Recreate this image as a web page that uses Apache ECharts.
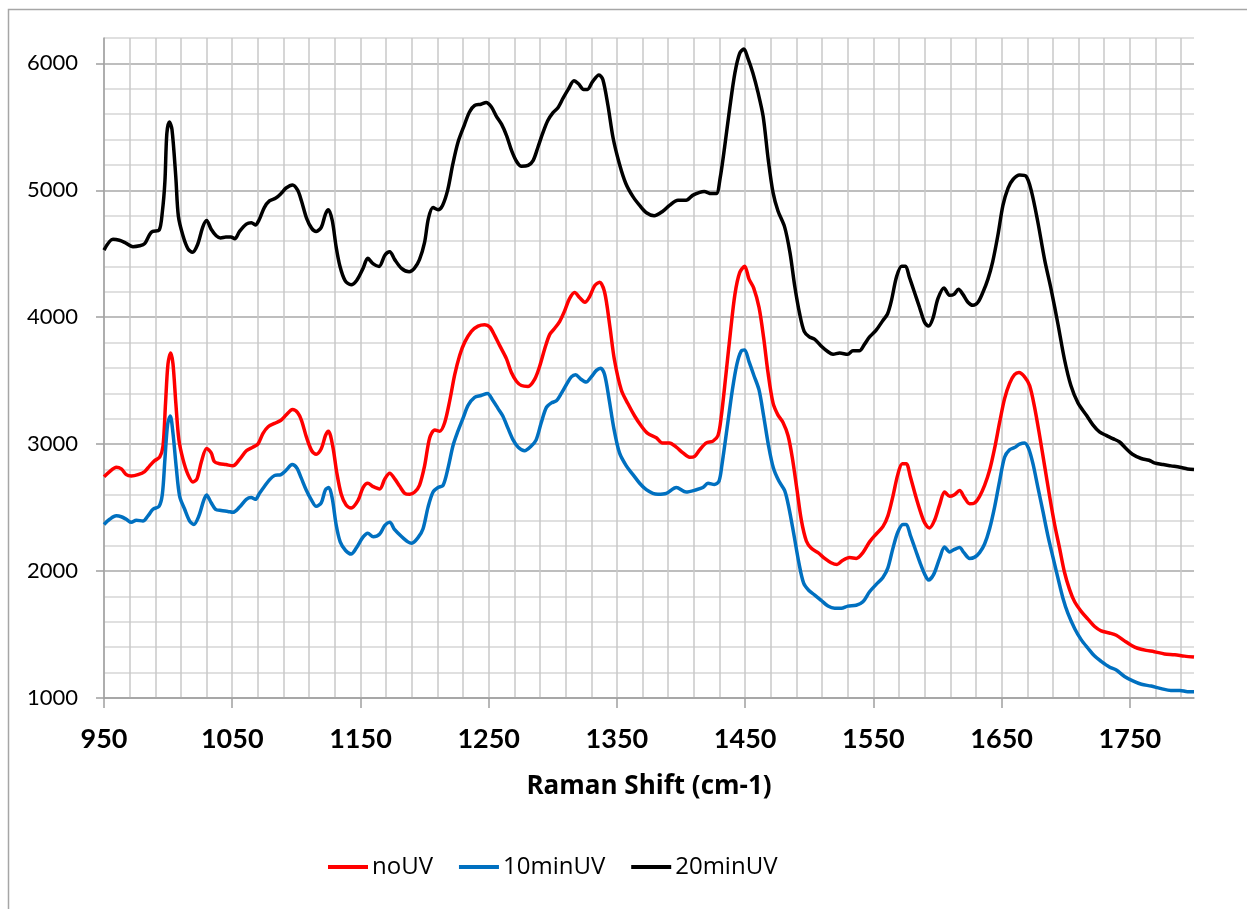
<!DOCTYPE html>
<html>
<head>
<meta charset="utf-8">
<script src="https://cdn.jsdelivr.net/npm/echarts@6/dist/echarts.min.js"></script>
<style>html,body{margin:0;padding:0;background:#fff;}#c{width:1247px;height:909px;}</style>
</head>
<body>
<div id="c"></div>
<script>
const seriesNames = ['noUV', '10minUV', '20minUV'];
const xTickLabels = [950, 1050, 1150, 1250, 1350, 1450, 1550, 1650, 1750];
const yTickLabels = [1000, 2000, 3000, 4000, 5000, 6000];

const noUVX = [950,954.4,959.6,963.5,967.4,971.3,976.5,981.7,985.6,989.5,993.4,996,998,999.9,1002,1003.8,1006,1008.4,1011.6,1015.5,1019.4,1022.5,1026,1030,1033.6,1036,1040,1045,1050.5,1055.7,1061,1066,1070,1074,1078,1083,1088,1092,1097,1101,1104,1108,1112,1115.5,1119.5,1122.7,1125,1128.4,1131.5,1135,1138.8,1142.7,1148,1152,1155.7,1160,1165,1169,1172.8,1176.7,1180.6,1184.5,1188.4,1192.3,1196,1200,1204,1208,1211.8,1215.7,1219.6,1223.5,1227.4,1231.3,1236.5,1241.7,1246.9,1250.8,1254.7,1258.6,1263.8,1267.7,1271.6,1275.5,1280.7,1285.9,1289.8,1293.7,1297.6,1301.5,1305.4,1309.2,1313,1317,1321,1325,1328.7,1332.6,1336.5,1340.4,1344.3,1348,1353.4,1358.6,1363.8,1369,1374,1380.7,1385.4,1391,1396.3,1401.5,1406.7,1410.6,1414.5,1419.7,1424.9,1428.8,1431.4,1434.8,1438.4,1442,1445.7,1449.6,1453,1456.6,1460.8,1464.4,1467.8,1471.7,1475.6,1479.5,1483.4,1486.7,1490.4,1493.8,1497.7,1501.6,1506.8,1512,1517,1521.6,1526.2,1531.4,1536.6,1541.8,1547,1552.2,1557.4,1561.3,1565.2,1569,1572.5,1575.6,1578.8,1583,1586.6,1590,1593.8,1597.7,1601.6,1605.5,1609.4,1612.8,1617.2,1621,1625,1629,1632.8,1636.7,1640.6,1644.5,1648.4,1652.3,1656.2,1660,1663.5,1667.9,1671.8,1675.7,1679.6,1683.5,1687.4,1691.3,1695.2,1699,1703,1706.9,1712,1717.3,1722.5,1727.6,1734,1739.4,1745.8,1751,1756,1762.7,1769,1777,1785,1792.6,1800];
const noUVY = [2743,2784,2818,2805,2760,2750,2760,2784,2829,2870,2897,2983,3325,3633,3718,3633,3325,3034,2880,2760,2702,2726,2863,2966,2931,2863,2846,2839,2829,2880,2948,2976,3000,3085,3137,3164,3188,3229,3273,3249,3188,3051,2948,2921,2966,3068,3102,2983,2777,2606,2521,2497,2555,2658,2692,2665,2647,2726,2770,2726,2668,2613,2606,2623,2675,2829,3051,3112,3102,3171,3342,3547,3701,3804,3889,3930,3941,3923,3855,3776,3674,3564,3496,3462,3455,3513,3616,3752,3865,3913,3968,4050,4146,4194,4153,4118,4163,4248,4276,4197,3941,3667,3427,3318,3222,3143,3085,3051,3010,3010,2976,2931,2897,2904,2955,3010,3024,3068,3222,3530,3872,4180,4351,4402,4300,4231,4077,3838,3564,3325,3229,3171,3068,2897,2641,2401,2237,2179,2145,2100,2066,2052,2086,2107,2100,2145,2230,2292,2350,2435,2589,2760,2846,2846,2743,2589,2470,2380,2340,2401,2521,2623,2589,2599,2634,2579,2531,2538,2589,2675,2794,2966,3171,3359,3479,3547,3564,3530,3462,3290,3068,2829,2589,2367,2179,1991,1854,1758,1683,1621,1563,1529,1512,1494,1450,1416,1392,1375,1365,1347,1341,1330,1323];

const min10X = [950,954.4,959.6,963.5,967.4,971.3,975.2,980.4,984.3,988.2,992.9,995.5,997.5,999.6,1001.7,1003.8,1006.4,1009,1012.9,1016.8,1020,1024,1027.7,1030,1033.6,1037,1041.4,1046.6,1050.5,1055.7,1061,1064.8,1068,1071.3,1075.2,1079,1083,1088,1092,1096.7,1100.4,1103.7,1107.6,1111.5,1115.5,1119.4,1122.7,1125.3,1128,1131,1134.2,1138.4,1142.7,1146.6,1151.8,1155.7,1160,1165,1169,1172.8,1176.7,1182,1187,1190,1195,1198.8,1202.7,1206.6,1210.5,1214.4,1218.3,1222.2,1226,1230,1234,1239,1244,1249,1253.4,1257.3,1261,1265,1269,1273,1278,1283,1287,1291,1295,1298.9,1302.8,1306.6,1310.5,1314.4,1317.8,1321.7,1326,1330,1334,1337.3,1340.4,1343.8,1347.7,1352,1357.3,1362.5,1367.7,1372.9,1378,1382,1388.5,1396.3,1404,1412,1417,1421,1426,1429.6,1432,1435.8,1440,1443.6,1447,1449.6,1453,1456.6,1460.8,1464.4,1468.3,1472,1476.3,1480.8,1484,1487.8,1492,1495.6,1499.7,1504,1509.4,1514.6,1519.8,1525,1530,1536.6,1541.8,1547,1552.2,1557.4,1561.3,1565.2,1569,1573,1575.6,1578.8,1583,1586.6,1590,1593,1597,1601.6,1605.5,1609.4,1612.8,1617.2,1620.6,1625,1629,1632.8,1636.7,1640.6,1644.5,1648.4,1652.3,1656.2,1660,1664,1667.9,1671,1674.4,1678.3,1682.2,1686,1690,1694,1697.8,1701.7,1707,1712,1717.3,1722.5,1727.6,1734,1739.4,1745.8,1752.3,1759,1766.6,1774.4,1782,1789,1795,1800];
const min10Y = [2367,2408,2435,2428,2408,2384,2401,2394,2435,2487,2510,2606,2880,3154,3222,3085,2812,2589,2487,2394,2367,2435,2555,2599,2538,2487,2477,2470,2463,2504,2565,2579,2565,2613,2668,2719,2753,2760,2794,2839,2812,2736,2641,2565,2510,2538,2641,2658,2572,2367,2230,2162,2134,2179,2265,2298,2270,2292,2360,2384,2326,2272,2230,2220,2265,2333,2504,2623,2658,2675,2812,2989,3102,3205,3307,3369,3383,3400,3342,3280,3222,3126,3034,2976,2948,2983,3034,3171,3290,3325,3342,3400,3468,3530,3547,3513,3489,3530,3581,3598,3547,3359,3119,2931,2829,2760,2692,2641,2613,2606,2613,2658,2623,2641,2658,2692,2682,2709,2846,3119,3427,3633,3735,3742,3650,3547,3427,3222,2983,2812,2709,2634,2504,2298,2059,1905,1847,1813,1768,1724,1707,1707,1724,1731,1758,1837,1895,1950,2025,2179,2306,2367,2367,2282,2162,2059,1975,1929,1974,2100,2189,2151,2169,2186,2145,2100,2110,2145,2213,2333,2504,2709,2897,2955,2973,3000,3010,2966,2846,2658,2470,2282,2110,1940,1786,1666,1546,1460,1392,1330,1289,1245,1221,1170,1135,1108,1094,1074,1060,1060,1050,1050];

const min20X = [950,957,962,966,972.6,977.8,981.7,985.6,988,993,995.5,997.5,999,1001,1003,1006,1008,1011.6,1015.5,1019,1023,1027,1030,1033.6,1037.5,1041,1045,1049,1052,1055.7,1061,1065,1068,1071,1075,1079,1084,1088,1092,1097,1101,1104,1108,1112,1115.5,1119.5,1122.7,1125,1128,1131,1134,1138,1142.7,1147,1152,1155.7,1160,1164.5,1169,1172.8,1176.7,1182,1188,1192,1196,1200,1203,1206.6,1210.5,1214,1218,1222,1226,1231,1235,1239,1244,1248,1252,1256,1260,1264,1268,1272,1275.5,1280.7,1284.6,1288.5,1292,1296,1300,1304,1308,1312,1316.5,1320,1324,1327,1331,1336,1339,1343,1347,1352,1357,1362.5,1367.7,1373,1379,1386,1391,1397.6,1404,1409,1414.5,1418,1423.6,1427.5,1430.6,1434,1438,1442,1445.7,1449,1452,1456,1460,1464,1468,1471.7,1475.6,1480.8,1485,1488.6,1492.5,1496,1500,1504,1509,1514.6,1518.5,1523.7,1530,1534,1539,1543,1547,1552,1557.4,1561,1564,1568,1572,1575,1578,1582,1586,1590,1593,1596.4,1600.3,1605,1609.4,1612.8,1616.4,1619.8,1623.7,1627.6,1631.5,1635.4,1639.3,1643,1647,1651,1655,1659,1664,1669,1673,1678,1683.5,1688.7,1694,1699,1704,1709.5,1716,1721,1726.3,1731.5,1736.7,1742,1747,1752,1758.8,1765,1769,1776,1782,1789,1795,1800];
const min20Y = [4529,4614,4607,4590,4556,4563,4580,4652,4676,4686,4830,5070,5446,5538,5480,5104,4796,4642,4539,4512,4573,4710,4762,4693,4642,4625,4632,4632,4618,4676,4734,4744,4727,4768,4864,4916,4939,4974,5018,5042,5001,4916,4779,4700,4676,4710,4813,4847,4762,4556,4402,4289,4255,4289,4385,4464,4420,4400,4488,4515,4454,4385,4358,4385,4454,4590,4779,4864,4847,4881,5001,5206,5377,5514,5617,5668,5678,5692,5658,5583,5521,5429,5309,5223,5189,5196,5234,5343,5446,5548,5610,5651,5726,5795,5863,5839,5795,5795,5856,5908,5873,5668,5412,5206,5052,4950,4881,4823,4800,4837,4881,4922,4922,4960,4984,4991,4974,4974,5104,5343,5651,5925,6079,6113,6044,5925,5771,5583,5240,4984,4837,4710,4505,4248,4026,3889,3845,3828,3776,3728,3708,3718,3708,3735,3735,3786,3845,3896,3975,4026,4129,4317,4402,4402,4317,4197,4077,3958,3930,3992,4146,4231,4173,4180,4221,4180,4118,4094,4118,4197,4300,4437,4642,4881,5018,5087,5121,5111,5001,4762,4454,4214,3941,3667,3462,3325,3229,3154,3096,3069,3044,3017,2966,2921,2887,2873,2853,2839,2829,2818,2805,2801];

const colors = ['#FF0000', '#0070C0', '#000000'];
const FONT = 'Lato';

function pairs(xs, ys) { return xs.map((x, i) => [x, ys[i]]); }

// vertical grid line colors: one per 20-unit tick from 950, last (1800 extent) hidden
const vCols = [];
for (let v = 950; v < 1800; v += 20) vCols.push('#c8c8c8');
vCols.push('rgba(0,0,0,0)');
// horizontal grid colors: major every 1000 darker
const hCols = [];
for (let v = 1000; v <= 6200; v += 200) hCols.push(v % 1000 === 0 ? '#a9a9a9' : '#d6d6d6');

const chart = echarts.init(document.getElementById('c'), null, { renderer: 'canvas' });
chart.setOption({
  animation: false,
  backgroundColor: '#ffffff',
  textStyle: { fontFamily: FONT },
  graphic: [{
    type: 'rect', silent: true,
    shape: { x: 8.5, y: 9.5, width: 1400, height: 1000 },
    style: { fill: 'none', stroke: '#a6a6a6', lineWidth: 1.5 }
  }],
  grid: { left: 104, right: 53, top: 38, height: 660, containLabel: false },
  legend: {
    left: 323, top: 850,
    icon: 'rect', itemWidth: 40, itemHeight: 4, itemGap: 26,
    textStyle: { fontFamily: 'Open Sans', fontSize: 24, color: '#000', padding: [0, 0, 0, -1] },
    data: seriesNames
  },
  xAxis: [{
    type: 'value', min: 950, max: 1800, interval: 20,
    name: 'Raman Shift (cm-1)', nameLocation: 'middle', nameGap: 76,
    nameTextStyle: { fontFamily: 'Open Sans', fontWeight: 'bold', fontSize: 26, color: '#000' },
    axisLine: { show: true, onZero: false, lineStyle: { color: '#a0a0a0', width: 1.5 } },
    axisTick: { show: true, length: 10, customValues: xTickLabels, lineStyle: { color: '#a0a0a0', width: 1.5 } },
    axisLabel: { customValues: xTickLabels, formatter: v => String(v), margin: 28, fontFamily: FONT, fontWeight: 'bold', fontSize: 27, color: '#000' },
    splitLine: { show: false }
  }, {
    type: 'value', min: 950, max: 1800, interval: 20, position: 'top',
    axisLine: { show: false }, axisTick: { show: false }, axisLabel: { show: false },
    splitLine: { show: true, lineStyle: { color: vCols, width: 1.5 } }
  }],
  yAxis: [{
    type: 'value', min: 1000, max: 6200, interval: 200,
    axisLine: { show: true, lineStyle: { color: '#a0a0a0', width: 1.5 } },
    axisTick: { show: true, length: 8, customValues: yTickLabels, lineStyle: { color: '#a0a0a0', width: 1.5 } },
    axisLabel: { customValues: yTickLabels, formatter: v => String(v), margin: 26, fontFamily: FONT, fontSize: 22, color: '#000' },
    splitLine: { show: false }
  }, {
    type: 'value', min: 1000, max: 6200, interval: 200, position: 'right',
    axisLine: { show: false }, axisTick: { show: false }, axisLabel: { show: false },
    splitLine: { show: true, lineStyle: { color: hCols, width: 1.5 } }
  }],
  series: [
    { name: seriesNames[0], type: 'line', data: pairs(noUVX, noUVY), color: colors[0] },
    { name: seriesNames[1], type: 'line', data: pairs(min10X, min10Y), color: colors[1] },
    { name: seriesNames[2], type: 'line', data: pairs(min20X, min20Y), color: colors[2] }
  ].map(s => Object.assign(s, { xAxisIndex: 0, yAxisIndex: 0, showSymbol: false, symbol: 'none', smooth: 0.3, lineStyle: { width: 3.5, color: s.color }, itemStyle: { color: s.color } }))
});
</script>
</body>
</html>
